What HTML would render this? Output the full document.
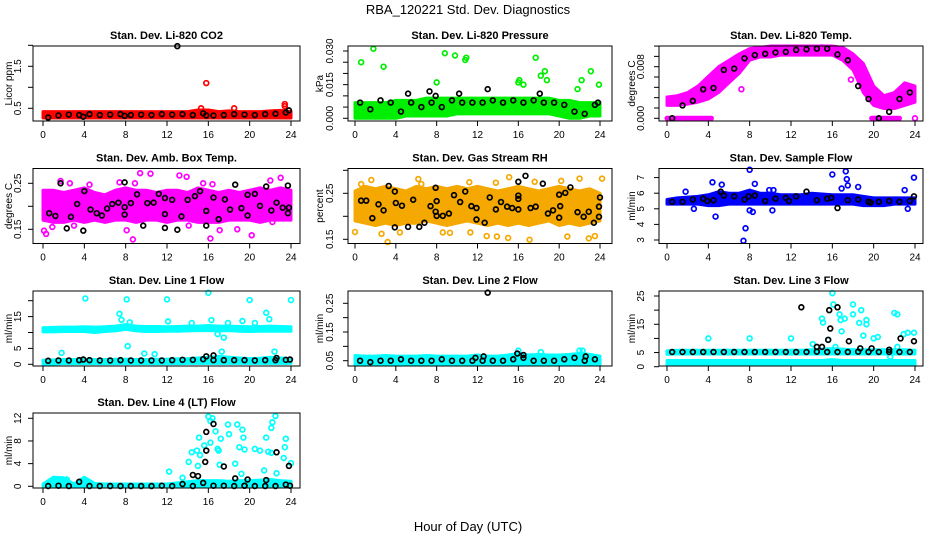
<!DOCTYPE html>
<html><head><meta charset="utf-8"><style>
html,body{margin:0;padding:0;background:#fff;}
svg{display:block;font-family:"Liberation Sans",Arial,sans-serif;}
</style></head><body>
<svg id="chart" width="936" height="540" viewBox="0 0 936 540" xmlns="http://www.w3.org/2000/svg">
<rect x="0" y="0" width="936" height="540" fill="#fff"/>
<text x="468" y="14" text-anchor="middle" font-size="13">RBA_120221  Std. Dev. Diagnostics</text>
<text x="468" y="531" text-anchor="middle" font-size="13">Hour of Day (UTC)</text>
</svg>
<script>
// shared hours
const bandHours=[0,1,2,3,4,5,6,7,8,9,10,11,12,13,14,15,16,17,18,19,20,21,22,23,24];
const blackHours=[0.5,1.5,2.5,3.5,4.5,5.5,6.5,7.5,8.5,9.5,10.5,11.5,12.5,13.5,14.5,15.5,16.5,17.5,18.5,19.5,20.5,21.5,22.5,23.5];
const xTicks=[0,4,8,12,16,20,24];

// P1 CO2
const co2BandLow=[0.27,0.27,0.27,0.27,0.27,0.27,0.27,0.27,0.27,0.27,0.27,0.27,0.27,0.27,0.27,0.27,0.27,0.27,0.27,0.27,0.27,0.27,0.27,0.27,0.27];
const co2BandHigh=[0.42,0.42,0.42,0.42,0.42,0.42,0.42,0.42,0.42,0.42,0.42,0.42,0.42,0.42,0.42,0.46,0.46,0.42,0.44,0.42,0.42,0.42,0.44,0.45,0.42];
const co2Black=[0.28,0.33,0.35,0.34,0.36,0.34,0.35,0.36,0.34,0.35,0.34,0.36,0.35,0.36,0.34,0.38,0.33,0.34,0.36,0.35,0.34,0.36,0.37,0.40];
const co2ExtraH=[13.0,3.9,7.9,15.8,23.8];
const co2ExtraV=[1.98,0.30,0.32,0.33,0.45];
const co2OutH=[15.8,15.3,18.5,23.4,23.4];
const co2OutV=[1.10,0.50,0.50,0.60,0.55];

// P2 Pressure
const presBandLow=[0,0,0,0,0,0.001,0.001,0.001,0.001,0.001,0.002,0.002,0.002,0.002,0.002,0.002,0.002,0.002,0.002,0.002,0.001,0,0,0.001,0.001];
const presBandHigh=[0.007,0.007,0.007,0.007,0.008,0.008,0.008,0.009,0.009,0.009,0.009,0.009,0.009,0.009,0.009,0.009,0.009,0.009,0.009,0.009,0.008,0.008,0.007,0.007,0.007];
const presBlack=[0.007,0.004,0.008,0.007,0.003,0.007,0.005,0.007,0.005,0.008,0.007,0.007,0.007,0.008,0.007,0.008,0.007,0.008,0.007,0.007,0.006,0.003,0.002,0.006];
const presExtraH=[5.2,13.0,7.3,10.2,7.9,18.1,23.8];
const presExtraV=[0.011,0.013,0.012,0.011,0.010,0.011,0.007];
const presOutH=[0.6,1.8,2.8,8.0,8.8,9.8,10.8,10.9,16.0,16.1,16.5,17.7,18.2,18.6,18.8,21.8,22.2,23.1,23.9];
const presOutV=[0.025,0.031,0.023,0.016,0.029,0.028,0.026,0.027,0.016,0.017,0.015,0.027,0.019,0.021,0.017,0.013,0.017,0.021,0.015];

// P3 Temp
const tempBandLow=[0.0020,0.0020,0.0022,0.0025,0.0030,0.0040,0.0055,0.0070,0.0090,0.0095,0.0095,0.0098,0.0098,0.0098,0.0098,0.0098,0.0098,0.0090,0.0075,0.0040,0.0020,0.0015,0.0015,0.0020,0.0025];
const tempBandHigh=[0.0033,0.0035,0.0040,0.0050,0.0065,0.0080,0.0090,0.0100,0.0108,0.0110,0.0112,0.0112,0.0112,0.0112,0.0112,0.0112,0.0112,0.0110,0.0100,0.0085,0.0050,0.0035,0.0040,0.0055,0.0050];
const tempBlack=[0.0000,0.0020,0.0027,0.0045,0.0047,0.0075,0.0077,0.0093,0.0098,0.0100,0.0102,0.0103,0.0106,0.0107,0.0108,0.0108,0.0099,0.0090,0.0050,0.0030,0.0000,0.0010,0.0030,0.0040];
const tempZeroStart=[0,19.8];
const tempZeroEnd=[4.3,22.5];
const tempOutH=[7.2,2.4,17.8,15.0,24.0];
const tempOutV=[0.0045,0.0040,0.0060,0.0110,0.0000];

// P4 Amb box temp
const ambBandLow=[0.17,0.165,0.165,0.17,0.165,0.17,0.165,0.17,0.17,0.165,0.17,0.17,0.165,0.17,0.17,0.165,0.165,0.165,0.17,0.17,0.17,0.165,0.17,0.17,0.17];
const ambBandHigh=[0.235,0.235,0.23,0.235,0.24,0.23,0.225,0.235,0.24,0.235,0.235,0.23,0.235,0.235,0.23,0.24,0.235,0.23,0.235,0.23,0.235,0.24,0.235,0.24,0.235];
const ambBlackH=[0.6,1.2,1.7,2.3,2.7,3.3,3.9,4.0,4.6,5.2,5.7,6.2,6.7,7.3,7.9,7.9,7.9,8.5,9.1,9.7,10.1,10.7,11.2,11.8,11.8,11.8,12.5,13.0,13.4,14.0,14.7,15.2,15.8,15.8,16.5,17.0,17.6,18.1,18.6,19.2,19.8,19.8,20.5,21.0,21.6,22.1,22.6,23.2,23.7,23.7,23.8];
const ambBlackV=[0.185,0.179,0.250,0.152,0.177,0.205,0.147,0.233,0.193,0.185,0.180,0.195,0.205,0.208,0.252,0.198,0.182,0.207,0.226,0.158,0.207,0.208,0.227,0.218,0.183,0.153,0.214,0.149,0.178,0.214,0.222,0.233,0.190,0.158,0.219,0.172,0.215,0.193,0.247,0.196,0.225,0.180,0.227,0.201,0.243,0.191,0.208,0.197,0.245,0.185,0.197];
const ambOutH=[0.1,0.3,1.7,2.6,4.5,7.4,8.9,9.4,10.4,13.2,13.9,15.5,16.2,16.4,8.7,8.1,20.2,22.0,23.0,18.8,17.1,14.1,22.2,0.9,3.0];
const ambOutV=[0.147,0.140,0.255,0.250,0.247,0.252,0.250,0.272,0.271,0.267,0.264,0.250,0.130,0.248,0.128,0.148,0.137,0.256,0.262,0.150,0.148,0.158,0.166,0.155,0.158];

// P5 Gas stream RH
const rhBandLow=[0.19,0.185,0.18,0.185,0.18,0.185,0.185,0.19,0.185,0.18,0.185,0.19,0.185,0.18,0.185,0.18,0.185,0.18,0.185,0.19,0.18,0.185,0.18,0.185,0.19];
const rhBandHigh=[0.255,0.265,0.26,0.265,0.26,0.255,0.265,0.26,0.265,0.26,0.265,0.26,0.265,0.26,0.255,0.26,0.265,0.26,0.255,0.26,0.265,0.26,0.255,0.26,0.25];
const rhBlackH=[0.6,1.1,1.7,2.3,2.8,3.3,3.9,3.9,4.0,4.6,5.2,5.7,6.3,6.8,7.4,7.9,7.9,8.0,8.0,8.6,9.2,9.7,10.3,10.8,11.4,11.9,11.9,12.7,13.2,13.8,14.3,14.9,15.4,16.0,16.0,16.0,16.0,16.7,17.2,17.7,18.4,18.9,19.4,20.0,20.0,20.1,20.6,21.1,21.8,22.4,22.9,23.4,24.0,23.9,23.9];
const rhBlackV=[0.234,0.234,0.196,0.226,0.213,0.266,0.254,0.176,0.229,0.223,0.177,0.236,0.177,0.186,0.222,0.262,0.210,0.201,0.233,0.201,0.206,0.246,0.231,0.254,0.222,0.193,0.218,0.186,0.241,0.215,0.231,0.221,0.218,0.275,0.238,0.245,0.215,0.288,0.218,0.221,0.271,0.206,0.213,0.197,0.247,0.222,0.251,0.263,0.209,0.199,0.210,0.186,0.241,0.221,0.199];
const rhOutH=[0.0,1.6,3.2,6.2,4.4,8.6,9.3,11.3,12.9,13.9,15.0,15.1,17.1,17.6,20.2,20.8,22.0,22.9,24.2,23.5,13.8,11.2,0.6,2.6,6.5];
const rhOutV=[0.166,0.279,0.144,0.281,0.165,0.165,0.164,0.165,0.157,0.156,0.153,0.285,0.149,0.275,0.277,0.156,0.282,0.152,0.282,0.157,0.273,0.274,0.270,0.162,0.270];

// P6 Sample flow
const flowBandLow=[5.3,5.3,5.3,5.3,5.2,5.2,5.3,5.3,5.3,5.3,5.3,5.3,5.3,5.3,5.3,5.3,5.3,5.3,5.3,5.2,5.2,5.2,5.3,5.3,5.3];
const flowBandHigh=[5.6,5.7,5.75,5.8,5.9,6.1,6.0,6.0,6.2,6.0,6.0,5.9,5.9,5.9,6.0,5.95,5.9,5.9,5.9,5.8,5.7,5.7,5.7,5.7,5.7];
const flowBlack=[5.45,5.45,5.6,5.65,5.55,5.85,5.8,5.6,5.85,5.5,5.65,5.7,5.8,6.1,5.55,5.65,5.05,5.55,5.6,5.45,5.45,5.5,5.45,5.5];
const flowExtraH=[5.2,23.9,3.9,7.9,11.8,15.9,19.7];
const flowExtraV=[6.1,5.8,5.5,5.8,5.5,5.7,5.4];
const flowOutH=[1.8,2.6,4.4,4.7,5.3,7.6,7.4,8.0,8.0,8.3,8.5,10.2,10.3,9.9,16.0,17.3,17.4,16.9,17.5,23.0,23.9,23.3,18.5];
const flowOutV=[6.1,5.0,6.7,4.5,6.55,3.75,2.95,7.5,4.9,4.8,6.6,4.9,6.2,6.2,7.2,7.4,6.9,6.3,6.5,6.2,7.0,5.0,6.4];

// P7 Line 1 flow
const l1UpLow=[10.2,10.2,10.3,10.3,10.3,10.0,10.3,10.5,11.0,10.5,10.3,10.3,10.4,10.4,10.5,10.6,10.6,10.5,10.6,10.4,10.3,10.4,10.4,10.4,10.4];
const l1UpHigh=[11.5,11.6,11.7,11.7,11.8,11.7,11.8,12.0,12.5,12.0,11.9,11.9,11.8,11.9,12.0,12.0,12.2,12.0,12.0,11.9,11.8,11.9,12.0,11.9,11.8];
const l1LowLow=[0.1,0.1,0.2,0.2,0.2,0.2,0.2,0.2,0.2,0.2,0.2,0.2,0.2,0.2,0.3,0.3,0.3,0.3,0.3,0.3,0.3,0.3,0.3,0.3,0.3];
const l1LowHigh=[1.3,1.4,1.5,1.5,1.6,1.5,1.5,1.6,1.6,1.5,1.5,1.6,1.6,1.7,1.8,2.0,2.2,2.5,2.2,2.0,1.8,1.9,2.2,2.0,1.8];
const l1Black=[1.1,1.2,1.2,1.3,1.3,1.2,1.2,1.3,1.2,1.2,1.2,1.2,1.3,1.4,1.4,1.6,1.3,1.3,1.3,1.3,1.2,1.3,1.3,1.4];
const l1ExtraH=[15.8,16.5,22.6,23.9,3.9];
const l1ExtraV=[2.5,2.8,2.0,1.5,1.5];
const l1OutH=[4.1,8.1,12.0,16.0,20.0,24.0,7.4,7.6,8.2,1.8,9.8,10.8,14.4,16.3,16.9,17.5,17.9,19.3,21.6,21.9,17.3,22.4,20.5,8.4,12.1];
const l1OutV=[20.7,20.4,20.4,22.5,20.2,20.2,15.9,14.0,5.7,3.6,3.4,3.2,13.0,13.9,9.5,8.4,13.0,13.6,16.2,14.2,4.0,4.0,13.0,13.2,13.5];

// P8 Line 2 flow
const l2BandLow=[0.035,0.035,0.035,0.035,0.035,0.035,0.035,0.035,0.035,0.035,0.035,0.035,0.035,0.035,0.035,0.035,0.035,0.035,0.035,0.035,0.035,0.035,0.035,0.035,0.035];
const l2BandHigh=[0.068,0.066,0.066,0.068,0.066,0.066,0.066,0.068,0.066,0.066,0.066,0.066,0.07,0.066,0.066,0.07,0.075,0.07,0.072,0.07,0.07,0.072,0.075,0.072,0.066];
const l2Black=[0.05,0.045,0.05,0.05,0.055,0.05,0.05,0.05,0.055,0.05,0.05,0.05,0.05,0.05,0.05,0.055,0.06,0.05,0.05,0.05,0.055,0.06,0.05,0.055];
const l2ExtraH=[13.0,12.6,16.5,15.9,22.6,11.8];
const l2ExtraV=[0.287,0.065,0.07,0.075,0.065,0.06];
const l2OutH=[16.0,18.2,22.0,22.3];
const l2OutV=[0.085,0.08,0.085,0.085];

// P9 Line 3 flow
const l3UpLow=[4.4,4.5,4.5,4.5,4.5,4.5,4.5,4.5,4.5,4.5,4.5,4.5,4.5,4.5,4.5,4.5,4.5,4.5,4.5,4.5,4.5,4.5,4.5,4.5,4.5];
const l3UpHigh=[5.6,5.8,5.8,5.8,5.8,5.8,5.8,5.8,5.8,5.8,5.8,5.8,5.8,5.8,6.0,6.2,6.4,6.2,6.0,6.0,6.0,6.0,6.0,6.0,5.8];
const l3LowLow=[0.6,0.6,0.6,0.6,0.6,0.6,0.6,0.6,0.6,0.6,0.6,0.6,0.6,0.6,0.6,0.6,0.6,0.6,0.6,0.6,0.6,0.6,0.6,0.6,0.6];
const l3LowHigh=[2.2,2.2,2.2,2.2,2.2,2.2,2.2,2.2,2.2,2.2,2.2,2.2,2.2,2.2,2.2,2.2,2.5,2.2,2.2,2.2,2.2,2.2,2.2,2.2,2.2];
const l3Black=[5.2,5.2,5.2,5.2,5.2,5.2,5.2,5.2,5.2,5.2,5.2,5.2,5.2,5.2,5.3,5.2,5.2,5.2,5.3,5.2,5.2,5.2,5.2,5.2];
const l3ExtraH=[13.0,15.7,16.5,15.8,15.6,15.0,17.6,18.7,19.8,21.5,22.6,23.9,14.5];
const l3ExtraV=[21.0,20.0,21.0,13.5,9.5,7.0,9.0,6.5,6.5,6.0,10.0,9.0,7.0];
const l3OutH=[4.0,8.0,12.0,14.1,15.0,15.1,16.0,16.1,16.7,16.8,17.2,16.9,18.0,18.0,18.8,18.6,19.0,19.3,19.3,20.0,20.4,22.0,22.3,22.9,23.3,23.9,16.3,15.6,21.6,22.3];
const l3OutV=[10.0,10.0,10.0,8.0,17.0,15.6,26.0,22.0,18.5,16.5,17.0,12.5,22.0,18.5,20.0,15.5,11.0,16.5,15.0,10.0,10.5,19.0,18.5,11.5,12.0,12.0,7.0,9.5,3.5,7.0];

// P10 Line 4 (LT) flow
const l4BandLow=[0,0,0,0,0,0,0,0,0,0,0,0,0,0,0,0,0,0,0,0,0,0,0,0,0];
const l4BandHigh=[0.4,1.6,1.5,0.4,1.6,0.5,0.4,0.4,0.4,0.4,0.4,0.4,0.4,0.6,0.8,1.0,1.0,1.0,0.9,1.0,1.0,1.1,1.2,1.0,0.9];
const l4Black=[0.05,0.1,0.05,0.8,0.05,0.05,0.05,0.05,0.05,0.05,0.05,0.1,0.05,0.4,0.05,0.6,0.1,0.1,0.05,0.1,0.05,0.05,0.05,0.3];
const l4ExtraH=[14.5,15.0,15.8,15.8,15.7,16.5,17.5,18.6,19.8,21.6,22.6,23.8,23.9,19.5];
const l4ExtraV=[2.0,1.8,9.6,6.3,4.3,11.0,3.5,1.4,1.2,1.1,6.0,3.6,0.1,0.1];
const l4OutH=[12.2,13.5,14.1,14.4,14.9,15.1,15.2,15.6,15.0,16.0,16.2,16.4,16.2,16.7,16.9,17.0,17.2,17.1,17.9,18.0,18.6,18.8,19.0,19.3,19.4,19.5,19.2,20.5,21.0,21.4,21.6,21.8,22.1,22.1,22.2,22.5,22.6,23.3,23.4,23.5,24.0,2.3];
const l4OutV=[2.6,1.5,4.3,6.0,6.3,8.6,5.5,7.2,3.6,12.3,11.5,12.0,7.7,9.7,6.6,6.3,8.4,3.8,10.9,9.2,4.0,10.9,6.9,10.0,8.6,6.5,2.2,6.6,6.3,2.8,8.6,6.1,5.9,10.3,11.3,12.4,2.3,5.0,6.9,8.4,4.1,1.2];

const NS="http://www.w3.org/2000/svg";
const svg=document.getElementById('chart');
const cols=[{l:33,r:300,x0:43,x24:291,yl:17,yt:8},{l:348,r:612,x0:355,x24:600,yl:329,yt:319},{l:659,r:923,x0:667,x24:915,yl:640,yt:631}];
const rows=[46,168.5,291,413];
function mk(tag,attrs,parent){const e=document.createElementNS(NS,tag);for(const k in attrs)e.setAttribute(k,attrs[k]);(parent||svg).appendChild(e);return e;}

function panel(p){
  const c=cols[p.col],top=rows[p.row],bot=top+75;
  const g=mk('g',{});
  
  
  const xs=h=>c.x0+h*(c.x24-c.x0)/24;
  const ys=v=>p.ry1+(v-p.rv1)*(p.ry2-p.ry1)/(p.rv2-p.rv1);
  // title
  const t=mk('text',{x:(c.l+c.r)/2,y:top-7,'text-anchor':'middle','font-size':'11','font-weight':'bold'},g);
  t.textContent=p.title;
  
  
  // bands
  (p.bands||[]).forEach((b,bi)=>{
    let pts=[];
    bandHours.forEach((h,i)=>pts.push(xs(h)+','+ys(b.hi[i])));
    for(let i=bandHours.length-1;i>=0;i--)pts.push(xs(bandHours[i])+','+ys(b.lo[i]));
    const poly=mk('polygon',{points:pts.join(' '),fill:p.color,stroke:p.color,'stroke-width':'3','stroke-linejoin':'round'},g);
    
    
  });
  (p.zeros||[]).forEach((z,zi)=>{
    const ln=mk('line',{x1:xs(z[0]),x2:xs(z[1]),y1:ys(0),y2:ys(0),stroke:p.color,'stroke-width':'5','stroke-linecap':'round'},g);
    
    
  });
  // colored outliers
  p.outH.forEach((h,i)=>{
    const cc=mk('circle',{cx:xs(h),cy:ys(p.outV[i]),r:2.4,fill:'none',stroke:p.color,'stroke-width':'1.7'},g);
    
    
  });
  // black points
  p.bh.forEach((h,i)=>{
    const cc=mk('circle',{cx:xs(h),cy:ys(p.bv[i]),r:2.4,fill:'none',stroke:'#000','stroke-width':'1.7'},g);
    
    
  });
  // box
  const box=mk('rect',{x:c.l,y:top,width:c.r-c.l,height:75,fill:'none',stroke:'#000','stroke-width':'1'},g);
  
  
  // x axis
  xTicks.forEach(h=>{
    mk('line',{x1:xs(h),x2:xs(h),y1:bot,y2:bot+5,stroke:'#000'},g);
    const tx=mk('text',{x:xs(h),y:bot+17,'text-anchor':'middle','font-size':'10'},g);
    tx.textContent=h;
    
    
  });
  // y axis
  p.yTicks.forEach(v=>mk('line',{x1:c.l,x2:c.l-5,y1:ys(v),y2:ys(v),stroke:'#000'},g));
  p.yLabV.forEach((v,i)=>{
    const tx=mk('text',{x:c.yl+4,y:ys(v),'text-anchor':'middle','font-size':'10',transform:'rotate(-90 '+(c.yl+4)+' '+ys(v)+')'},g);
    tx.textContent=p.yLabT[i];
    
    
  });
  const yt=mk('text',{x:c.yt+4,y:(top+bot)/2,'text-anchor':'middle','font-size':'10',transform:'rotate(-90 '+(c.yt+4)+' '+((top+bot)/2)+')'},g);
  yt.textContent=p.ylab;
  
  
}

panel({name:'co2',col:0,row:0,title:'Stan. Dev. Li-820 CO2',ylab:'Licor ppm',color:'#ff0000',rv1:0.5,ry1:108.3,rv2:1.5,ry2:66.3,
 yTicks:[0.5,1,1.5,2],yLabV:[0.5,1.5],yLabT:['0.5','1.5'],bands:[{lo:co2BandLow,hi:co2BandHigh}],
 outH:co2OutH,outV:co2OutV,bh:blackHours.concat(co2ExtraH),bv:co2Black.concat(co2ExtraV)});
panel({name:'pressure',col:1,row:0,title:'Stan. Dev. Li-820 Pressure',ylab:'kPa',color:'#00ee00',rv1:0,ry1:118.3,rv2:0.03,ry2:51,
 yTicks:[0,0.005,0.01,0.015,0.02,0.025,0.03],yLabV:[0,0.015,0.03],yLabT:['0.000','0.015','0.030'],bands:[{lo:presBandLow,hi:presBandHigh}],
 outH:presOutH,outV:presOutV,bh:blackHours.concat(presExtraH),bv:presBlack.concat(presExtraV)});
panel({name:'licor-temp',col:2,row:0,title:'Stan. Dev. Li-820 Temp.',ylab:'degrees C',color:'#ff00ff',rv1:0,ry1:118.3,rv2:0.008,ry2:66.7,
 yTicks:[0,0.0016,0.0032,0.0048,0.0064,0.008,0.0096,0.0112],yLabV:[0,0.008],yLabT:['0.000','0.008'],bands:[{lo:tempBandLow,hi:tempBandHigh}],
 zeros:tempZeroStart.map((s,i)=>[s,tempZeroEnd[i]]),
 outH:tempOutH,outV:tempOutV,bh:blackHours,bv:tempBlack});
panel({name:'amb-box-temp',col:0,row:1,title:'Stan. Dev. Amb. Box Temp.',ylab:'degrees C',color:'#ff00ff',rv1:0.15,ry1:229.3,rv2:0.25,ry2:183.3,
 yTicks:[0.15,0.2,0.25],yLabV:[0.15,0.25],yLabT:['0.15','0.25'],bands:[{lo:ambBandLow,hi:ambBandHigh}],
 outH:ambOutH,outV:ambOutV,bh:ambBlackH,bv:ambBlackV});
panel({name:'gas-rh',col:1,row:1,title:'Stan. Dev. Gas Stream RH',ylab:'percent',color:'#f5a800',rv1:0.15,ry1:239.3,rv2:0.25,ry2:193.3,
 yTicks:[0.15,0.2,0.25,0.3],yLabV:[0.15,0.25],yLabT:['0.15','0.25'],bands:[{lo:rhBandLow,hi:rhBandHigh}],
 outH:rhOutH,outV:rhOutV,bh:rhBlackH,bv:rhBlackV});
panel({name:'sample-flow',col:2,row:1,title:'Stan. Dev. Sample Flow',ylab:'ml/min',color:'#0000ff',rv1:3,ry1:240,rv2:7,ry2:177.6,
 yTicks:[3,4,5,6,7],yLabV:[3,4,5,6,7],yLabT:['3','4','5','6','7'],bands:[{lo:flowBandLow,hi:flowBandHigh}],
 outH:flowOutH,outV:flowOutV,bh:blackHours.concat(flowExtraH),bv:flowBlack.concat(flowExtraV)});
panel({name:'line1-flow',col:0,row:2,title:'Stan. Dev. Line 1 Flow',ylab:'ml/min',color:'#00ffff',rv1:0,ry1:364.3,rv2:15,ry2:316.6,
 yTicks:[0,5,10,15,20],yLabV:[0,5,15],yLabT:['0','5','15'],bands:[{lo:l1UpLow,hi:l1UpHigh},{lo:l1LowLow,hi:l1LowHigh}],
 outH:l1OutH,outV:l1OutV,bh:blackHours.concat(l1ExtraH),bv:l1Black.concat(l1ExtraV)});
panel({name:'line2-flow',col:1,row:2,title:'Stan. Dev. Line 2 Flow',ylab:'ml/min',color:'#00ffff',rv1:0.05,ry1:360.7,rv2:0.25,ry2:303.3,
 yTicks:[0.05,0.1,0.15,0.2,0.25],yLabV:[0.05,0.15,0.25],yLabT:['0.05','0.15','0.25'],bands:[{lo:l2BandLow,hi:l2BandHigh}],
 outH:l2OutH,outV:l2OutV,bh:blackHours.concat(l2ExtraH),bv:l2Black.concat(l2ExtraV)});
panel({name:'line3-flow',col:2,row:2,title:'Stan. Dev. Line 3 Flow',ylab:'ml/min',color:'#00ffff',rv1:0,ry1:366.7,rv2:25,ry2:296,
 yTicks:[0,5,10,15,20,25],yLabV:[0,5,15,25],yLabT:['0','5','15','25'],bands:[{lo:l3UpLow,hi:l3UpHigh},{lo:l3LowLow,hi:l3LowHigh}],
 outH:l3OutH,outV:l3OutV,bh:blackHours.concat(l3ExtraH),bv:l3Black.concat(l3ExtraV)});
panel({name:'line4-flow',col:0,row:3,title:'Stan. Dev. Line 4 (LT) Flow',ylab:'ml/min',color:'#00ffff',rv1:0,ry1:486.3,rv2:12,ry2:418.3,
 yTicks:[0,4,8,12],yLabV:[0,4,8,12],yLabT:['0','4','8','12'],bands:[{lo:l4BandLow,hi:l4BandHigh}],
 outH:l4OutH,outV:l4OutV,bh:blackHours.concat(l4ExtraH),bv:l4Black.concat(l4ExtraV)});
</script>
</body></html>
